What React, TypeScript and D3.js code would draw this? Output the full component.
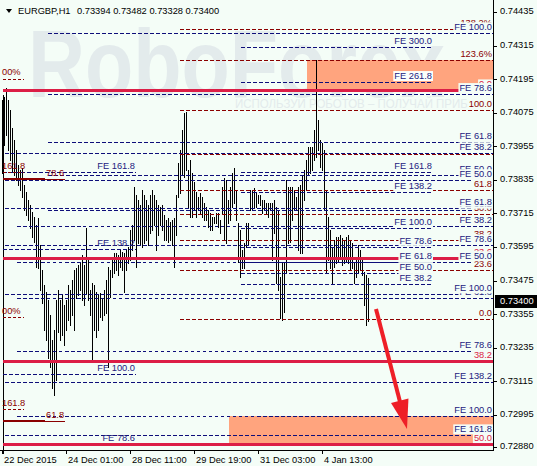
import React from 'react';
import * as d3 from 'd3';

const W = 537;
const H = 466;
const PLOT_L = 3;
const PLOT_R = 494;
const PLOT_B = 450;
const FS = 9.3;
const FONT = '"Liberation Sans", Arial, sans-serif';

// EURGBP H1, hourly bars starting 22 Dec 2015 17:00 (high / low)
const barHigh = [
  0.74117, 0.74128, 0.74160, 0.74117, 0.74081, 0.74017, 0.73974, 0.73938, 0.73884, 0.73867,
  0.73874, 0.73813, 0.73788, 0.73759, 0.73741, 0.73716, 0.73698, 0.73670, 0.73695, 0.73598,
  0.73509, 0.73455, 0.73430, 0.73402, 0.73348, 0.73259, 0.73294, 0.73402, 0.73437, 0.73402,
  0.73419, 0.73384, 0.73402, 0.73455, 0.73437, 0.73473, 0.73509, 0.73516, 0.73527, 0.73538,
  0.73563, 0.73527, 0.73659, 0.73545, 0.73437, 0.73462, 0.73455, 0.73430, 0.73419, 0.73426,
  0.73409, 0.73437, 0.73473, 0.73520, 0.73509, 0.73556, 0.73570, 0.73570, 0.73563, 0.73580,
  0.73573, 0.73570, 0.73580, 0.73591, 0.73652, 0.73670, 0.73806, 0.73777, 0.73759, 0.73741,
  0.73795, 0.73777, 0.73759, 0.73741, 0.73777, 0.73795, 0.73777, 0.73759, 0.73741, 0.73734,
  0.73741, 0.73706, 0.73688, 0.73695, 0.73681, 0.73688, 0.73695, 0.73777, 0.73891, 0.73938,
  0.74010, 0.74070, 0.74074, 0.73867, 0.73902, 0.73856, 0.73824, 0.73788, 0.73770, 0.73784,
  0.73770, 0.73748, 0.73734, 0.73724, 0.73713, 0.73698, 0.73698, 0.73713, 0.73713, 0.73688,
  0.73806, 0.73838, 0.73831, 0.73759, 0.73806, 0.73856, 0.73874, 0.73795, 0.73677, 0.73652,
  0.73580, 0.73605, 0.73677, 0.73677, 0.73795, 0.73795, 0.73802, 0.73784, 0.73777, 0.73777,
  0.73759, 0.73759, 0.73748, 0.73748, 0.73748, 0.73748, 0.73759, 0.73734, 0.73724, 0.73484,
  0.73538, 0.73538, 0.73831, 0.73806, 0.73806, 0.73806, 0.73795, 0.73770, 0.73806, 0.73813,
  0.73849, 0.73867, 0.73902, 0.73949, 0.73949, 0.73949, 0.74010, 0.74260, 0.74045, 0.73974,
  0.73963, 0.73938, 0.73795, 0.73698, 0.73652, 0.73591, 0.73616, 0.73627, 0.73627, 0.73634,
  0.73623, 0.73616, 0.73627, 0.73634, 0.73616, 0.73605, 0.73538, 0.73552, 0.73598, 0.73580,
  0.73552, 0.73502, 0.73491, 0.73482,
];
const barLow = [
  0.73856, 0.73956, 0.73992, 0.73938, 0.73902, 0.73860, 0.73849, 0.73831, 0.73813, 0.73795,
  0.73770, 0.73724, 0.73706, 0.73688, 0.73659, 0.73627, 0.73609, 0.73520, 0.73516, 0.73437,
  0.73391, 0.73294, 0.73259, 0.73194, 0.73162, 0.73087, 0.73062, 0.73116, 0.73287, 0.73259,
  0.73276, 0.73241, 0.73294, 0.73330, 0.73312, 0.73348, 0.73294, 0.73409, 0.73419, 0.73437,
  0.73402, 0.73384, 0.73426, 0.73402, 0.73348, 0.73187, 0.73294, 0.73269, 0.73294, 0.73341,
  0.73330, 0.73348, 0.73355, 0.73162, 0.73412, 0.73484, 0.73498, 0.73509, 0.73491, 0.73520,
  0.73509, 0.73430, 0.73509, 0.73534, 0.73545, 0.73580, 0.73616, 0.73520, 0.73605, 0.73598,
  0.73591, 0.73605, 0.73616, 0.73598, 0.73641, 0.73652, 0.73670, 0.73580, 0.73634, 0.73670,
  0.73652, 0.73616, 0.73616, 0.73609, 0.73616, 0.73598, 0.73520, 0.73634, 0.73770, 0.73784,
  0.73849, 0.73842, 0.73867, 0.73734, 0.73698, 0.73698, 0.73724, 0.73698, 0.73724, 0.73713,
  0.73698, 0.73688, 0.73688, 0.73663, 0.73652, 0.73652, 0.73677, 0.73677, 0.73663, 0.73641,
  0.73713, 0.73616, 0.73605, 0.73677, 0.73688, 0.73734, 0.73748, 0.73688, 0.73538, 0.73484,
  0.73516, 0.73516, 0.73591, 0.73598, 0.73724, 0.73724, 0.73734, 0.73734, 0.73748, 0.73741,
  0.73713, 0.73724, 0.73713, 0.73698, 0.73724, 0.73545, 0.73641, 0.73462, 0.73437, 0.73337,
  0.73330, 0.73359, 0.73498, 0.73605, 0.73609, 0.73688, 0.73724, 0.73724, 0.73580, 0.73570,
  0.73570, 0.73759, 0.73795, 0.73849, 0.73856, 0.73867, 0.73902, 0.73913, 0.73938, 0.73877,
  0.73867, 0.73724, 0.73498, 0.73545, 0.73516, 0.73462, 0.73520, 0.73534, 0.73538, 0.73556,
  0.73527, 0.73534, 0.73538, 0.73534, 0.73509, 0.73516, 0.73462, 0.73484, 0.73502, 0.73509,
  0.73491, 0.73384, 0.73312, 0.73328,
];

const quoteOpen = 0.73394;
const quoteHigh = 0.73482;
const quoteLow = 0.73328;
const quoteClose = 0.73400;

const timeTickBars = [0, 32, 64, 96, 128, 160];
const timeTickLabels = ['22 Dec 2015', '24 Dec 01:00', '28 Dec 11:00', '29 Dec 19:00', '31 Dec 03:00', '4 Jan 13:00'];

const priceTicks = [
  0.74435, 0.74315, 0.74195, 0.74075, 0.73955, 0.73835, 0.73715,
  0.73595, 0.73475, 0.73355, 0.73235, 0.73115, 0.72995, 0.7288,
];

// Fibonacci retracement (dark red, dashed)
const fiboRLabels = ['138.2%', '123.6%', '100.0', '78.6', '61.8', '50.0', '38.2', '23.6', '0.0'];
const fiboRPrices = [0.74371, 0.7426, 0.74081, 0.73925, 0.73794, 0.73708, 0.73617, 0.73508, 0.73333];
const fiboRStart = 88.5;

// Fibonacci retracement (crimson, solid)
const fiboCLabels = ['0.0', '23.6', '38.2', '50.0'];
const fiboCPrices = [0.74151, 0.73553, 0.73185, 0.72887];

// Fibonacci expansions (navy, dashed)
const feALabels = ['100.0', '78.6', '61.8', '50.0', '38.2'];
const feAPrices = [0.74355, 0.74138, 0.73966, 0.73848, 0.73725];
const feAStart = 22.5;

const feBLabels = ['38.2', '50.0', '61.8', '78.6', '100.0', '138.2', '161.8'];
const feBPrices = [0.73926, 0.7383, 0.73732, 0.73597, 0.73422, 0.7311, 0.72918];
const feBStart = 1;

const feCLabels = ['38.2', '50.0', '61.8', '78.6', '100.0'];
const feCPrices = [0.73665, 0.73537, 0.73408, 0.73221, 0.72988];
const feCStart = 7;

const feDLabels = ['161.8', '138.2', '100.0', '78.6'];
const feDPrices = [0.73858, 0.73583, 0.73136, 0.72887];
const feDStart = 0;
const feDEnd = 66.5;

const feELabels = ['300.0', '261.8', '161.8', '138.2', '100.0', '78.6', '61.8', '50.0', '38.2'];
const feEPrices = [0.74306, 0.74181, 0.73858, 0.73787, 0.73658, 0.73592, 0.73537, 0.73498, 0.73459];
const feEStart = 119;
const feEEnd = 214.5;

// Older retracement fragments near the left edge
const fragDashLabels = ['00%', '161.8', '00%', '161.8'];
const fragDashPrices = [0.74192, 0.73858, 0.7334, 0.73012];
const fragSolidLabels = ['78.6', '61.8'];
const fragSolidPrices = [0.73834, 0.7297];

// Target zones
const zoneStartBars = [152, 113];
const zoneTops = [0.7426, 0.72988];
const zoneBottoms = [0.74151, 0.72887];

// Forecast arrow
const arrowFrom = [186.5, 0.7337];
const arrowTo = [202, 0.72941];

const x = d3.scaleLinear().domain([0, 245.5]).range([PLOT_L, PLOT_R]);
const y = d3.scaleLinear().domain([0.7288, 0.74435]).range([446, 11]);
const crisp = (v: number) => Math.round(v) + 0.5;

const NAVY = '#0e0e7a';
const NAVY_TXT = '#23207e';
const DARK_RED = '#8b0000';
const CRIMSON = '#dc1e46';
const BG = '#f4fdf7';
const DASH = '3.5,2.5';

let ctx: CanvasRenderingContext2D | null = null;
function textWidth(s: string): number {
  if (!ctx && typeof document !== 'undefined') {
    ctx = document.createElement('canvas').getContext('2d');
  }
  if (!ctx) return s.length * 5;
  ctx.font = `${FS}px ${FONT}`;
  return ctx.measureText(s).width;
}

function Label({ right, baseline, text, color, bg, bgFill }: {
  right: number; baseline: number; text: string; color: string; bg?: boolean; bgFill?: string;
}) {
  const w = textWidth(text);
  return (
    <g>
      {bg && (
        <rect x={right - w - 1} y={baseline - 8} width={w + 2} height={10} fill={bgFill || BG} />
      )}
      <text x={right} y={baseline} textAnchor="end" fill={color} fontSize={FS} fontFamily={FONT}>
        {text}
      </text>
    </g>
  );
}

export default function App() {
  const lastBar = barHigh.length - 1;

  const hLine = (key: string, x1: number, x2: number, price: number, color: string, width = 1, dash?: string) => {
    const yy = width % 2 === 1 ? crisp(y(price)) : Math.round(y(price));
    return (
      <line key={key} x1={x1} x2={x2} y1={yy} y2={yy} stroke={color} strokeWidth={width}
        strokeDasharray={dash} shapeRendering="crispEdges" />
    );
  };

  // arrow geometry
  const ax1 = x(arrowFrom[0]);
  const ay1 = y(arrowFrom[1]);
  const ax2 = x(arrowTo[0]);
  const ay2 = y(arrowTo[1]);
  const len = Math.hypot(ax2 - ax1, ay2 - ay1);
  const ux = (ax2 - ax1) / len;
  const uy = (ay2 - ay1) / len;
  const headLen = 29;
  const headHalf = 9;
  const bx = ax2 - ux * headLen;
  const by = ay2 - uy * headLen;
  const head = [
    [ax2, ay2],
    [bx - uy * headHalf * -1, by + ux * headHalf * -1],
    [bx + uy * headHalf * -1 * -1 * -1, by - ux * headHalf * -1 * -1 * -1],
  ];
  const headPts = `${ax2},${ay2} ${bx + uy * headHalf},${by - ux * headHalf} ${bx - uy * headHalf},${by + ux * headHalf}`;
  void head;

  const closeY = y(quoteClose);

  return (
    <svg width={W} height={H} style={{ position: 'absolute', left: 0, top: 0 }} xmlns="http://www.w3.org/2000/svg">
      <rect x={0} y={0} width={W} height={H} fill={BG} />

      {/* watermark */}
      <text x={28} y={97} fontSize={96} fontWeight="bold" fontFamily={FONT} fill="#e3ebec"
        textLength={417} lengthAdjust="spacingAndGlyphs">RoboForex</text>
      <text x={235} y={108} fontSize={13} fontFamily={FONT} fill="#e3ebec"
        textLength={258} lengthAdjust="spacingAndGlyphs">ИСПОЛЬЗУЙ РОБОТОВ – ПОЛУЧАЙ ПРИБЫЛЬ</text>

      {/* target zones */}
      {zoneStartBars.map((b, i) => (
        <rect key={`z${i}`} x={Math.round(x(b))} y={Math.round(y(zoneTops[i]))}
          width={PLOT_R - Math.round(x(b))} height={Math.round(y(zoneBottoms[i])) - Math.round(y(zoneTops[i]))}
          fill="#ffa47e" />
      ))}

      {/* price bars */}
      {barHigh.map((hi, i) => (
        <line key={`b${i}`} x1={crisp(x(i)) - 1} x2={crisp(x(i)) - 1} y1={Math.round(y(hi))} y2={Math.round(y(barLow[i])) + 1}
          stroke="#000" strokeWidth={1} shapeRendering="crispEdges" />
      ))}
      <line x1={3.5} x2={3.5} y1={95} y2={454} stroke="#000" strokeWidth={1} shapeRendering="crispEdges" />

      {/* retracement levels */}
      {fiboRPrices.map((p, i) => hLine(`r${i}`, x(fiboRStart), PLOT_R, p, DARK_RED, 1, DASH))}

      {/* expansions */}
      {feAPrices.map((p, i) => hLine(`a${i}`, x(feAStart), PLOT_R, p, NAVY, 1, DASH))}
      {feBPrices.map((p, i) => hLine(`bb${i}`, x(feBStart), PLOT_R, p, NAVY, 1, DASH))}
      {feCPrices.map((p, i) => hLine(`c${i}`, x(feCStart), PLOT_R, p, NAVY, 1, DASH))}
      {feDPrices.map((p, i) => hLine(`d${i}`, x(feDStart), x(feDEnd), p, NAVY, 1, DASH))}
      {feEPrices.map((p, i) => hLine(`e${i}`, x(feEStart), x(feEEnd), p, NAVY, 1, DASH))}

      {/* crimson retracement */}
      {fiboCPrices.map((p, i) => hLine(`k${i}`, PLOT_L, PLOT_R, p, CRIMSON, 3))}

      {/* fragments on the left */}
      {fragDashPrices.map((p, i) => (
        <g key={`fd${i}`}>
          {hLine(`fdl${i}`, PLOT_L, x(10.5), p, DARK_RED, 1, '3,2')}
          <text x={2} y={y(p) - 3.5} fill={DARK_RED} fontSize={FS} fontFamily={FONT}>{fragDashLabels[i]}</text>
        </g>
      ))}
      {fragSolidPrices.map((p, i) => (
        <g key={`fs${i}`}>
          {hLine(`fsl${i}`, PLOT_L, x(21), p, DARK_RED, 2)}
          {hLine(`fst${i}`, x(21), x(31), p, DARK_RED, 1)}
          <text x={46} y={y(p) - 3} fill={DARK_RED} fontSize={FS} fontFamily={FONT}>{fragSolidLabels[i]}</text>
        </g>
      ))}

      {/* left expansion labels (no background) */}
      {feDPrices.map((p, i) => (
        <Label key={`dl${i}`} right={x(feDEnd) - 1} baseline={y(p) - 3} text={`FE ${feDLabels[i]}`} color={NAVY_TXT} />
      ))}
      {/* mid expansion labels */}
      {feEPrices.map((p, i) => (
        <Label key={`el${i}`} right={x(feEEnd)} baseline={y(p) - 3} text={`FE ${feELabels[i]}`} color={NAVY_TXT} bg
          bgFill={y(p) > 58 && y(p) < 92 && x(feEEnd) > x(zoneStartBars[0]) ? '#fbfffc' : BG} />
      ))}

      {/* right edge labels */}
      {fiboCPrices.map((p, i) => (
        <Label key={`kl${i}`} right={492} baseline={y(p) - 3} text={fiboCLabels[i]} color={CRIMSON} bg />
      ))}
      {fiboRPrices.map((p, i) => (
        <Label key={`rl${i}`} right={492} baseline={y(p) - 3} text={fiboRLabels[i]} color={DARK_RED} bg />
      ))}
      {feAPrices.map((p, i) => (
        <Label key={`al${i}`} right={492} baseline={y(p) - 3} text={`FE ${feALabels[i]}`} color={NAVY_TXT} bg />
      ))}
      {feCPrices.map((p, i) => (
        <Label key={`cl${i}`} right={492} baseline={y(p) - 3} text={`FE ${feCLabels[i]}`} color={NAVY_TXT} bg />
      ))}
      {feBPrices.map((p, i) => (
        <Label key={`bl${i}`} right={492} baseline={y(p) - 3} text={`FE ${feBLabels[i]}`} color={NAVY_TXT} bg />
      ))}

      {/* forecast arrow */}
      <line x1={ax1} y1={ay1} x2={bx + ux * 2} y2={by + uy * 2} stroke="#ee1f27" strokeWidth={4} />
      <polygon points={headPts} fill="#ee1f27" />

      {/* axes */}
      <line x1={crisp(PLOT_R) - 1} x2={crisp(PLOT_R) - 1} y1={0} y2={PLOT_B + 1} stroke="#000" shapeRendering="crispEdges" />
      <line x1={0} x2={PLOT_R} y1={PLOT_B + 0.5} y2={PLOT_B + 0.5} stroke="#000" shapeRendering="crispEdges" />
      {priceTicks.map((t, i) => (
        <g key={`pt${i}`}>
          <line x1={PLOT_R} x2={PLOT_R + 3} y1={Math.round(y(t)) + 1.5} y2={Math.round(y(t)) + 1.5} stroke="#000" shapeRendering="crispEdges" />
          <text x={500} y={y(t) + 3.4} fontSize={FS} fontFamily={FONT} fill="#000">{t.toFixed(5)}</text>
        </g>
      ))}
      {timeTickBars.map((b, i) => (
        <g key={`tt${i}`}>
          <line x1={crisp(x(b)) - 1} x2={crisp(x(b)) - 1} y1={PLOT_B} y2={PLOT_B + 4} stroke="#000" shapeRendering="crispEdges" />
          <text x={x(b) + 1} y={463} fontSize={FS} fontFamily={FONT} fill="#000">{timeTickLabels[i]}</text>
        </g>
      ))}

      {/* current price marker */}
      <rect x={495} y={Math.round(closeY) - 6} width={42} height={13} fill="#000" />
      <text x={500} y={closeY + 3.4} fontSize={FS} fontFamily={FONT} fill="#fff">{quoteClose.toFixed(5)}</text>

      {/* title */}
      <polygon points="6,9 12,9 9,13" fill="#000" />
      <text x={18} y={14} fontSize={FS} fontFamily={FONT} fill="#000">
        {`EURGBP,H1`}
      </text>
      <text x={77} y={14} fontSize={FS} fontFamily={FONT} fill="#000">
        {`${quoteOpen.toFixed(5)} ${quoteHigh.toFixed(5)} ${quoteLow.toFixed(5)} ${quoteClose.toFixed(5)}`}
      </text>
      {lastBar < 0 && null}
    </svg>
  );
}
